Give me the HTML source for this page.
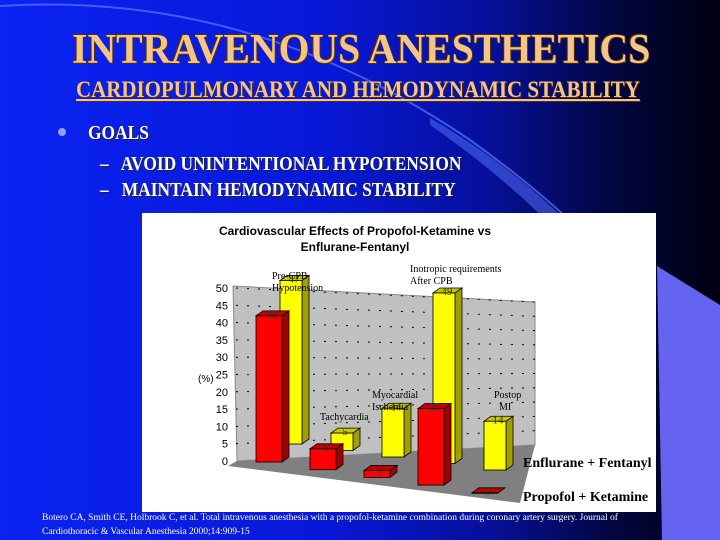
<!DOCTYPE html>
<html><head><meta charset="utf-8">
<style>
html,body{margin:0;padding:0;}
body{width:720px;height:540px;overflow:hidden;position:relative;background:linear-gradient(90deg,#0a22f2 0%,#0818d8 45%,#06109a 68%,#020640 85%,#000010 100%);font-family:"Liberation Serif",serif;}
.t{position:absolute;white-space:nowrap;}
#title{left:72px;top:26px;font-size:42px;font-weight:bold;color:#f3c58a;letter-spacing:0px;text-shadow:1px 1px 0 #5a3000,-1px -1px 0 #5a3000;transform:scaleX(0.945);transform-origin:left top;}
#sub{left:76px;top:77px;font-size:23px;font-weight:bold;color:#f3c58a;text-decoration:underline;text-shadow:1px 1px 0 #5a3000;transform:scaleX(0.91);transform-origin:left top;}
.b{color:#fff;font-weight:bold;text-shadow:1px 1px 0 #222;transform:scaleX(0.87);transform-origin:left top;}
#cite{left:42px;top:511px;font-size:9.5px;color:#fff;line-height:14px;}
</style></head><body>
<svg style="position:absolute;left:0;top:0" width="720" height="540">
<path d="M0,6 Q250,-10 470,140 Q540,190 590,240" fill="none" stroke="#5a78ff" stroke-width="2" opacity="0.7"/>
<path d="M430,118 Q520,170 590,245 L575,250 Q510,180 430,125 Z" fill="#4a66f0" opacity="0.6"/>
<polygon points="657,266 720,305 720,540 662,540" fill="#6464f0"/>
</svg>
<div class="t" id="title">INTRAVENOUS ANESTHETICS</div>
<div class="t" id="sub">CARDIOPULMONARY AND HEMODYNAMIC STABILITY</div>
<div class="t" style="left:58px;top:128px;width:8px;height:8px;border-radius:50%;background:#8fa0ff"></div>
<div class="t b" style="left:88px;top:122px;font-size:20px">GOALS</div>
<div class="t b" style="left:100px;top:153px;font-size:20px">–&nbsp;&nbsp; AVOID UNINTENTIONAL HYPOTENSION</div>
<div class="t b" style="left:100px;top:179px;font-size:20px">–&nbsp;&nbsp; MAINTAIN HEMODYNAMIC STABILITY</div>

<svg id="chart" style="position:absolute;left:0;top:0" width="720" height="540"></svg>

<div class="t" id="cite">Botero CA, Smith CE, Holbrook C, et al. Total intravenous anesthesia with a propofol-ketamine combination during coronary artery surgery. Journal of<br>Cardiothoracic &amp; Vascular Anesthesia 2000;14:909-15</div>

<script>
const categories = ["Pre-CPB Hypotension","Tachycardia","Myocardial Ischemia","Inotropic requirements After CPB","Postop MI"];
const enfluraneFentanyl = [47, 5, 14, 49, 14];
const propofolKetamine = [42, 6, 2, 22, 0];
const yTicks = [0,5,10,15,20,25,30,35,40,45,50];

const NS = "http://www.w3.org/2000/svg";
const svg = document.getElementById("chart");
function mk(tag, attrs, parent){const e=document.createElementNS(NS,tag);for(const k in attrs)e.setAttribute(k,attrs[k]);(parent||svg).appendChild(e);return e;}

const wb = mk("rect",{x:142,y:213,width:514,height:299,fill:"#fff"});



const UNIT = 3.48;
function wallLeftY(v){return 461 - 3.46*v;}
function wallRightY(v){return 445 - 2.86*v;}
function bx(s,i){return s===0 ? 280 + i*51 : 256 + i*54;}
function bBase(s,i){return s===0 ? 444 + i*6.5 : 462 + i*7.7;}
function bh(v){return v*UNIT;}

const wall = mk("polygon",{points:`233,${wallLeftY(50)-2} 535,${wallRightY(50)} 535,${wallRightY(0)} 237,${wallLeftY(0)}`,fill:"#c0c0c0",stroke:"#888","stroke-width":1});


const floor = mk("polygon",{points:`237,${wallLeftY(0)} 535,${wallRightY(0)} 520,503 228,466`,fill:"#808080"});



yTicks.forEach(v=>{
  if(v>0){
    const g = mk("line",{x1:236,y1:wallLeftY(v),x2:535,y2:wallRightY(v),stroke:"#000","stroke-width":1,"stroke-dasharray":"2,9"});
    
    
  }
  const t = mk("text",{x:228,y:wallLeftY(v)+4,"text-anchor":"end","font-family":"Liberation Sans, sans-serif","font-size":11,fill:"#000"});
  t.textContent = v;
  
  
});
const yl = mk("text",{x:198,y:382,"font-family":"Liberation Sans, sans-serif","font-size":10,fill:"#000"});
yl.textContent="(%)";



function bar(s,i,v){
  const w = s===0?22:26, dx=7, dy=5;
  const x=bx(s,i), b=bBase(s,i), top=b-bh(v);
  const front = s===0?"#ffff00":"#ff0000", side=s===0?"#a0a000":"#a00000", topc=s===0?"#c8c800":"#c00000";
  const g = mk("g",{});
  
  
  mk("polygon",{points:`${x+w},${top} ${x+w+dx},${top-dy} ${x+w+dx},${b-dy} ${x+w},${b}`,fill:side,stroke:"#000","stroke-width":0.8},g);
  mk("polygon",{points:`${x},${top} ${x+dx},${top-dy} ${x+w+dx},${top-dy} ${x+w},${top}`,fill:topc,stroke:"#000","stroke-width":0.8},g);
  mk("rect",{x:x,y:top,width:w,height:Math.max(b-top,0.5),fill:front,stroke:"#000","stroke-width":0.8},g);
  const lt = mk("text",{x:x+w/2+3,y:top+2,"text-anchor":"middle","font-size":11,fill:"#333","font-family":"Liberation Serif, serif"},g);
  lt.textContent=v;
}
enfluraneFentanyl.forEach((v,i)=>bar(0,i,v));
propofolKetamine.forEach((v,i)=>bar(1,i,v));

const labels=[[272,279,"Pre-CPB"],[272,291,"Hypotension"],[320,420,"Tachycardia"],[372,398,"Myocardial"],[372,410,"Ischemia"],[410,272,"Inotropic requirements"],[410,284,"After CPB"],[494,398,"Postop"],[499,410,"MI"]];
labels.forEach(l=>{
  const t=mk("text",{x:l[0],y:l[1],"font-size":10,fill:"#000","font-family":"Liberation Serif, serif"});
  t.textContent=l[2];
  
  
});
const t1=mk("text",{x:355,y:235,"text-anchor":"middle","font-size":12,"font-weight":"bold","font-family":"Liberation Sans, sans-serif",fill:"#000"});
t1.textContent="Cardiovascular Effects of Propofol-Ketamine vs";


const t2=mk("text",{x:355,y:251,"text-anchor":"middle","font-size":12,"font-weight":"bold","font-family":"Liberation Sans, sans-serif",fill:"#000"});
t2.textContent="Enflurane-Fentanyl";


const lg1=mk("text",{x:523,y:467,"font-size":14,"font-weight":"bold","font-family":"Liberation Serif, serif",fill:"#000"});
lg1.textContent="Enflurane + Fentanyl";


const lg2=mk("text",{x:523,y:501,"font-size":14,"font-weight":"bold","font-family":"Liberation Serif, serif",fill:"#000"});
lg2.textContent="Propofol + Ketamine";


</script>
</body></html>
